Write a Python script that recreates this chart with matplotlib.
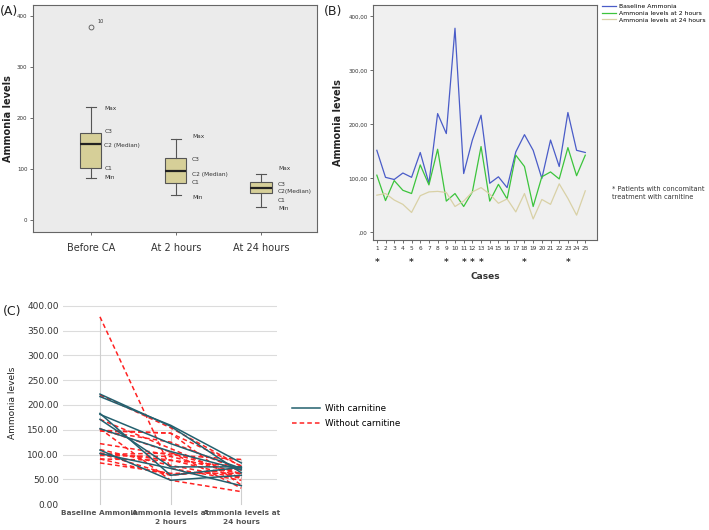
import matplotlib
matplotlib.use("Agg")
import matplotlib.pyplot as plt
import numpy as np
from matplotlib.lines import Line2D
from matplotlib.transforms import blended_transform_factory

# ---------------- data ----------------
cases = list(range(1, 26))
baseline = [152, 102, 98, 110, 102, 148, 91, 220, 183, 378, 109, 171, 217,
            91, 103, 83, 149, 181, 152, 100, 171, 122, 222, 152, 148]
at_2h = [106, 59, 96, 78, 72, 125, 88, 154, 58, 72, 48, 75, 159,
         58, 89, 62, 143, 122, 48, 103, 112, 99, 157, 105, 143]
at_24h = [69, 72, 60, 52, 37, 68, 75, 76, 74, 48, 58, 75, 83,
          71, 54, 62, 38, 72, 25, 61, 52, 90, 63, 32, 77]
carnitine_cases = [1, 5, 9, 11, 12, 13, 18, 23]

box_labels = ["Before CA", "At 2 hours", "At 24 hours"]
b_ytick_labels = [",00", "100,00", "200,00", "300,00", "400,00"]
c_xlabels = ["Baseline Ammonia", "Ammonia levels at\n2 hours", "Ammonia levels at\n24 hours"]
series_names = ["Baseline Ammonia", "Ammonia levels at 2 hours", "Ammonia levels at 24 hours"]

W, H = 709, 530
fig = plt.figure(figsize=(W / 100, H / 100), dpi=100)
fig.patch.set_facecolor("white")


def ax_px(left, top, right, bottom):
    return fig.add_axes([left / W, 1 - bottom / H, (right - left) / W, (bottom - top) / H])


# ---------------- Panel A ----------------
axA = ax_px(33, 5, 317, 232)
axA.set_facecolor("#ebebeb")
bp = axA.boxplot([baseline, at_2h, at_24h], positions=[1, 2, 3], widths=0.25,
                 patch_artist=True, whis=1.5,
                 boxprops=dict(facecolor="#d6cf98", edgecolor="#555555", linewidth=0.8),
                 medianprops=dict(color="#222222", linewidth=1.6),
                 whiskerprops=dict(color="#555555", linewidth=0.8),
                 capprops=dict(color="#555555", linewidth=0.8),
                 flierprops=dict(marker="o", markerfacecolor="none", markeredgecolor="#555555",
                                 markersize=3.5, markeredgewidth=0.6))
axA.set_xlim(0.32, 3.66)
axA.set_ylim(-23.5, 421)
axA.set_yticks([0, 100, 200, 300, 400])
axA.set_yticklabels(["0", "100", "200", "300", "400"], fontsize=4, color="#333333")
axA.set_xticks([1, 2, 3])
axA.set_xticklabels(box_labels, fontsize=7, color="#333333")
axA.tick_params(axis="both", length=2, width=0.6, color="#555555", pad=2)
axA.tick_params(axis="x", pad=6)
for s in axA.spines.values():
    s.set_color("#666666")
    s.set_linewidth(0.8)
axA.set_ylabel("Ammonia levels", fontsize=7, fontweight="bold", color="#222222", labelpad=3)

# outlier label
out_idx = int(np.argmax(baseline))
axA.text(1.08, max(baseline) + 8, str(cases[out_idx]), fontsize=3.5, color="#333333")

annot = {
    1: (1.16, [("Max", 219), ("C3", 174), ("C2 (Median)", 145), ("C1", 100), ("Min", 84)]),
    2: (2.19, [("Max", 164), ("C3", 119), ("C2 (Median)", 90), ("C1", 74), ("Min", 45)]),
    3: (3.20, [("Max", 100), ("C3", 70), ("C2(Median)", 55), ("C1", 39), ("Min", 23)]),
}
for k, (xx, items) in annot.items():
    for t, yv in items:
        axA.text(xx, yv, t, fontsize=4.2, color="#333333", va="center", ha="left")

fig.text(0 / W, 1 - 12 / H, "(A)", fontsize=9, color="#222222", va="center")

# ---------------- Panel B ----------------
axB = ax_px(373, 5, 597, 240)
axB.set_facecolor("#f0f0f0")
colors = ["#4a5cc8", "#3cc43c", "#d9d1a6"]
for vals, col, name in zip([baseline, at_2h, at_24h], colors, series_names):
    axB.plot(cases, vals, color=col, linewidth=0.9, label=name)
axB.set_xlim(-0.44 + 1, 26.35)
axB.set_ylim(-14, 421)
axB.set_yticks([0, 100, 200, 300, 400])
axB.set_yticklabels(b_ytick_labels, fontsize=4, color="#333333")
axB.set_xticks(cases)
axB.set_xticklabels([str(c) for c in cases], fontsize=4.2, color="#333333")
axB.tick_params(axis="both", length=2, width=0.6, color="#555555", pad=2)
for s in axB.spines.values():
    s.set_color("#666666")
    s.set_linewidth(0.8)
axB.set_ylabel("Ammonia levels", fontsize=7, fontweight="bold", color="#222222", labelpad=4)
tr = blended_transform_factory(axB.transData, axB.transAxes)
for c in carnitine_cases:
    axB.text(c, -0.095, "*", transform=tr, fontsize=6.5, ha="center", va="center",
             color="#333333", fontweight="bold")
axB.text(0.5, -0.155, "Cases", transform=axB.transAxes, fontsize=6.5, fontweight="bold",
         ha="center", va="center", color="#333333")
fig.legend(handles=[Line2D([], [], color=c, lw=0.9) for c in colors], labels=series_names,
           loc="upper left", bbox_to_anchor=(598 / W, 1 - 0 / H), frameon=False,
           fontsize=4.4, handlelength=2.4, handletextpad=0.5, labelspacing=0.25,
           borderaxespad=0.2)
fig.text(612 / W, 1 - 193 / H, "* Patients with concomitant\ntreatment with carnitine",
         fontsize=4.8, color="#333333", va="center", ha="left", linespacing=1.5)
fig.text(324 / W, 1 - 12 / H, "(B)", fontsize=9, color="#222222", va="center")

# ---------------- Panel C ----------------
axC = ax_px(63, 300, 277, 506)
xs = [1, 2, 3]
for y in range(50, 401, 50):
    axC.axhline(y, color="#dcdcdc", linewidth=0.8, zorder=0)
all_series = [baseline, at_2h, at_24h]
for i, x in enumerate(xs):
    axC.plot([x, x], [0, max(all_series[i])], color="#cfcfcf", linewidth=0.8, zorder=0)
for i, c in enumerate(cases):
    vals = [baseline[i], at_2h[i], at_24h[i]]
    if c in carnitine_cases:
        axC.plot(xs, vals, color="#23606e", linewidth=1.1, zorder=3)
    else:
        axC.plot(xs, vals, color="#ff2222", linewidth=1.1, linestyle=(0, (3, 2)), zorder=2)
axC.set_xlim(0.477, 3.505)
axC.set_ylim(-4, 412)
axC.set_yticks(list(range(0, 401, 50)))
axC.set_yticklabels([f"{v:.2f}" for v in range(0, 401, 50)], fontsize=6.5, color="#333333")
axC.set_xticks(xs)
axC.set_xticklabels(c_xlabels, fontsize=5.3, color="#555555", fontweight="semibold",
                    linespacing=1.5)
axC.tick_params(axis="both", length=0, pad=3)
for s in axC.spines.values():
    s.set_visible(False)
axC.set_ylabel("Ammonia levels", fontsize=6.5, color="#222222", labelpad=7)
axC.legend(handles=[Line2D([], [], color="#23606e", lw=1.1),
                    Line2D([], [], color="#ff2222", lw=1.1, linestyle=(0, (3, 2)))],
           labels=["With carnitine", "Without carnitine"],
           loc="center left", bbox_to_anchor=(284 / W, 1 - 416 / H),
           bbox_transform=fig.transFigure, frameon=False, fontsize=6.3,
           handlelength=3.2, handletextpad=0.6, labelspacing=0.7)
fig.text(3 / W, 1 - 312 / H, "(C)", fontsize=9, color="#222222", va="center")

fig.savefig("out.png", dpi=100, facecolor="white")
